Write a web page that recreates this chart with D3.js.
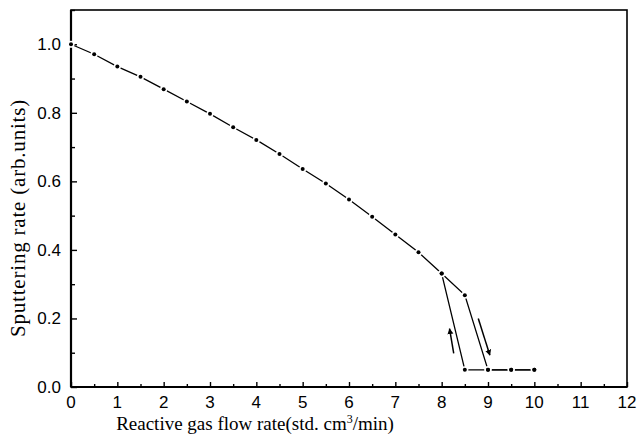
<!DOCTYPE html>
<html>
<head>
<meta charset="utf-8">
<script src="https://cdn.jsdelivr.net/npm/d3@7"></script>
<style>
  body { margin: 0; background: #fff; }
  svg { display: block; }
</style>
</head>
<body>
<svg width="638" height="444"></svg>
<script>
// data
const flowIncrease = [0, 0.5, 1, 1.5, 2, 2.5, 3, 3.5, 4, 4.5, 5, 5.5, 6, 6.5, 7, 7.5, 8, 8.5, 9, 9.5, 10];
const rateIncrease = [1.0, 0.971, 0.935, 0.905, 0.869, 0.833, 0.797, 0.758, 0.721, 0.68, 0.636, 0.594, 0.547, 0.497, 0.445, 0.393, 0.331, 0.268, 0.05, 0.05, 0.05];
const flowDecrease = [10, 9.5, 9, 8.5, 8];
const rateDecrease = [0.05, 0.05, 0.05, 0.05, 0.331];

// direction arrows [x1, y1, x2, y2] in data units, head at the end
const arrows = [
  [8.26, 0.098, 8.17, 0.17],
  [8.79, 0.2, 9.04, 0.093]
];

const xTicks = [0, 1, 2, 3, 4, 5, 6, 7, 8, 9, 10, 11, 12];
const yTicks = [0.0, 0.2, 0.4, 0.6, 0.8, 1.0];

const svg = d3.select("svg");
const margin = { left: 71, right: 11, top: 10, bottom: 57 };
const width = 638, height = 444;

const x = d3.scaleLinear().domain([0, 12]).range([margin.left, width - margin.right]);
const y = d3.scaleLinear().domain([0, 1.1]).range([height - margin.bottom, margin.top]);

// frame
svg.append("rect")
  .attr("x", x(0)).attr("y", y(1.1))
  .attr("width", x(12) - x(0)).attr("height", y(0) - y(1.1))
  .attr("fill", "none").attr("stroke", "#000").attr("stroke-width", 1.6);

// x axis, ticks inward
const xAxis = svg.append("g").attr("transform", `translate(0,${y(0)})`);
xAxis.call(d3.axisBottom(x).tickValues(d3.range(0, 12.01, 0.5)).tickSize(-3).tickFormat(""))
  .call(g => g.select(".domain").remove());
xAxis.selectAll(".tick line")
  .attr("y2", d => Number.isInteger(d) ? -5 : -3)
  .attr("stroke-width", 1.4);
xAxis.selectAll(".lbl").data(xTicks).enter().append("text")
  .attr("x", d => x(d)).attr("y", 21)
  .attr("text-anchor", "middle")
  .attr("fill", "#000")
  .attr("font-family", "Liberation Sans, Arial, sans-serif")
  .attr("font-size", 17)
  .text(d => d);

// y axis, ticks inward
const yAxis = svg.append("g").attr("transform", `translate(${x(0)},0)`);
yAxis.call(d3.axisLeft(y).tickValues(d3.range(0, 1.101, 0.1)).tickSize(-3).tickFormat(""))
  .call(g => g.select(".domain").remove());
yAxis.selectAll(".tick line")
  .attr("x2", (d, i) => i % 2 === 0 ? 6 : 4)
  .attr("stroke-width", 1.4);
yAxis.selectAll(".lbl").data(yTicks).enter().append("text")
  .attr("x", -10).attr("y", d => y(d) + 6)
  .attr("text-anchor", "end")
  .attr("fill", "#000")
  .attr("font-family", "Liberation Sans, Arial, sans-serif")
  .attr("font-size", 17)
  .text(d => d.toFixed(1));

// thicker left and bottom spines
svg.append("line").attr("x1", x(0)).attr("x2", x(0)).attr("y1", y(0)).attr("y2", y(1.1))
  .attr("stroke", "#000").attr("stroke-width", 2.2);
svg.append("line").attr("x1", x(0)).attr("x2", x(12)).attr("y1", y(0)).attr("y2", y(0))
  .attr("stroke", "#000").attr("stroke-width", 2);

// curves
const line = d3.line().x(d => x(d[0])).y(d => y(d[1]));
const upData = d3.zip(flowIncrease, rateIncrease);
const downData = d3.zip(flowDecrease, rateDecrease);

[upData, downData].forEach(data => {
  svg.append("path").datum(data)
    .attr("d", line)
    .attr("fill", "none").attr("stroke", "#000").attr("stroke-width", 1.3);
});

// markers with a small white gap around them
const pts = upData.concat(downData);
svg.append("g").selectAll("circle").data(pts).enter().append("circle")
  .attr("cx", d => x(d[0])).attr("cy", d => y(d[1]))
  .attr("r", 3.6).attr("fill", "#fff");
svg.append("g").selectAll("circle").data(pts).enter().append("circle")
  .attr("cx", d => x(d[0])).attr("cy", d => y(d[1]))
  .attr("r", 2).attr("fill", "#000");

// arrows
svg.append("defs").append("marker")
  .attr("id", "head")
  .attr("viewBox", "0 0 10 10")
  .attr("refX", 9).attr("refY", 5)
  .attr("markerWidth", 4).attr("markerHeight", 6)
  .attr("markerUnits", "strokeWidth")
  .attr("orient", "auto")
  .append("path").attr("d", "M0,0 L10,5 L0,10 Z").attr("fill", "#000");

svg.append("g").selectAll("line").data(arrows).enter().append("line")
  .attr("x1", d => x(d[0])).attr("y1", d => y(d[1]))
  .attr("x2", d => x(d[2])).attr("y2", d => y(d[3]))
  .attr("stroke", "#000").attr("stroke-width", 1.5)
  .attr("marker-end", "url(#head)");

// axis titles
svg.append("text")
  .attr("x", 255).attr("y", 430)
  .attr("text-anchor", "middle")
  .attr("font-family", "Liberation Serif, Times New Roman, serif")
  .attr("font-size", 19)
  .html('Reactive gas flow rate(std. cm<tspan dy="-7" font-size="12">3</tspan><tspan dy="7">/min)</tspan>');

svg.append("text")
  .attr("transform", "translate(25,218) rotate(-90)")
  .attr("text-anchor", "middle")
  .attr("font-family", "Liberation Serif, Times New Roman, serif")
  .attr("font-size", 21)
  .attr("letter-spacing", 0.8)
  .text("Sputtering rate (arb.units)");
</script>
</body>
</html>
